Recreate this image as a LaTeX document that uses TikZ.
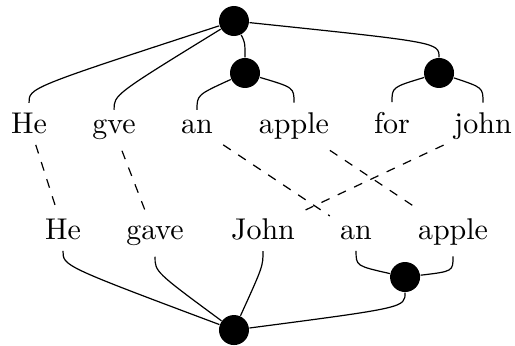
\documentclass[tikz,border=0pt]{standalone}

\begin{document}
\begin{tikzpicture}[
    dot/.style={circle, fill=black, inner sep=0pt, minimum size=10pt},
    word/.style={anchor=base},
    link/.style={dashed},
  ]
  \useasboundingbox (0,0) rectangle (6.033,4.053);

  % Upper tree: internal nodes
  \node[dot] (root1) at (2.741, 3.807) {};
  \node[dot] (np1) at (2.870, 3.198) {};
  \node[dot] (pp1) at (5.143, 3.198) {};

  % Upper sentence
  \node[word] (he1) at (0.340, 2.484) {He};
  \node[word] (gve) at (1.336, 2.484) {gve};
  \node[word] (an1) at (2.308, 2.484) {an};
  \node[word] (apple1) at (3.444, 2.484) {apple};
  \node[word] (for) at (4.592, 2.484) {for};
  \node[word] (john) at (5.658, 2.484) {john};

  % Upper branches (bend in vertically at the child)
  \draw (root1) .. controls ([yshift=5pt]he1.north) .. (he1.north);
  \draw (root1) .. controls ([yshift=5pt]gve.north) .. (gve.north);
  \draw (root1) .. controls ([yshift=5pt]np1.north) .. (np1.north);
  \draw (root1) .. controls ([yshift=5pt]pp1.north) .. (pp1.north);
  \draw (np1) .. controls ([yshift=5pt]an1.north) .. (an1.north);
  \draw (np1) .. controls ([yshift=5pt]apple1.north) .. (apple1.north);
  \draw (pp1) .. controls ([yshift=5pt]for.north) .. (for.north);
  \draw (pp1) .. controls ([yshift=5pt]john.north) .. (john.north);

  % Lower sentence
  \node[word] (he2) at (0.738, 1.242) {He};
  \node[word] (gave) at (1.816, 1.242) {gave};
  \node[word] (John) at (3.081, 1.242) {John};
  \node[word] (an2) at (4.171, 1.242) {an};
  \node[word] (apple2) at (5.307, 1.242) {apple};

  % Lower tree: internal nodes
  \node[dot] (np2) at (4.745, 0.808) {};
  \node[dot] (root2) at (2.741, 0.187) {};

  % Lower branches (grow upwards)
  \draw (root2) .. controls ([yshift=-5pt]he2.south) .. (he2.south);
  \draw (root2) .. controls ([yshift=-5pt]gave.south) .. (gave.south);
  \draw (root2) .. controls ([yshift=-5pt]John.south) .. (John.south);
  \draw (root2) .. controls ([yshift=-5pt]np2.south) .. (np2.south);
  \draw (np2) .. controls ([yshift=-5pt]an2.south) .. (an2.south);
  \draw (np2) .. controls ([yshift=-5pt]apple2.south) .. (apple2.south);

  % Word alignment
  \draw[link] (he1) -- (he2);
  \draw[link] (gve) -- (gave);
  \draw[link] (an1) -- (an2);
  \draw[link] (apple1) -- (apple2);
  \draw[link] (john) -- (John);
\end{tikzpicture}
\end{document}
